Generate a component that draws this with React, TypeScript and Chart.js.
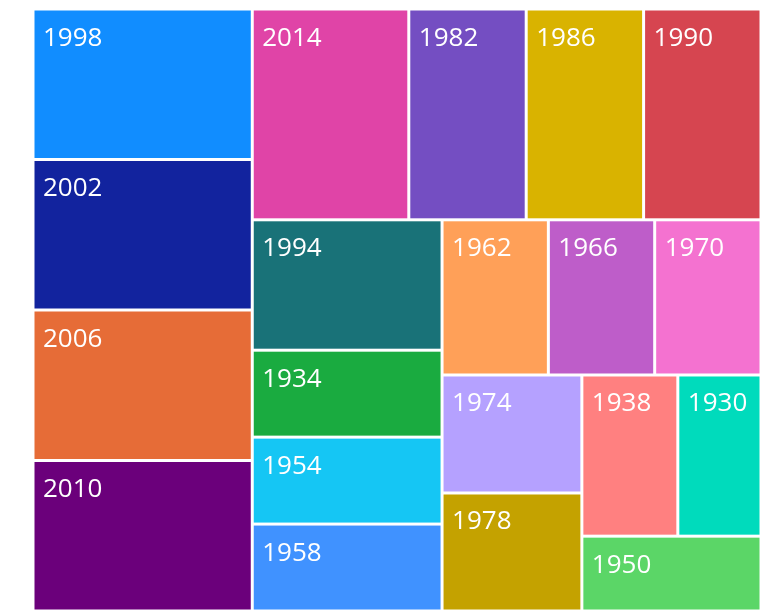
import React, { useEffect, useRef } from "react";
import { Chart, registerables } from "chart.js";

Chart.register(...registerables);

// FIFA World Cup: number of participating teams per tournament
const years = ["1930", "1934", "1938", "1950", "1954", "1958", "1962", "1966", "1970", "1974", "1978", "1982", "1986", "1990", "1994", "1998", "2002", "2006", "2010", "2014"];
const teams = [13, 16, 15, 13, 16, 16, 16, 16, 16, 16, 16, 24, 24, 24, 24, 32, 32, 32, 32, 32];
// colours assigned in size order (largest first)
const palette = ["#118DFF", "#12239E", "#E66C37", "#6B007B", "#E044A7", "#744EC2", "#D9B300", "#D64550", "#197278", "#1AAB40", "#15C6F4", "#4092FF", "#FFA058", "#BE5DC9", "#F472D0", "#B5A1FF", "#C4A200", "#FF8080", "#00DBBC", "#5BD667"];

type Item = { label: string; value: number; color: string };
type Cell = Item & { x0: number; y0: number; x1: number; y1: number };

const PHI = (1 + Math.sqrt(5)) / 2;

// squarified layout (golden-ratio target), in a W x H box
function squarify(nodes: Item[], W: number, H: number): Cell[] {
  const out: Cell[] = [];
  let x0 = 0, y0 = 0, x1 = W, y1 = H;
  let value = nodes.reduce((a, b) => a + b.value, 0);
  const n = nodes.length;
  let i0 = 0, i1 = 0;
  while (i0 < n) {
    const dx = x1 - x0, dy = y1 - y0;
    let sumValue = nodes[i1++].value;
    let minValue = sumValue, maxValue = sumValue;
    const alpha = Math.max(dy / dx, dx / dy) / (value * PHI);
    let beta = sumValue * sumValue * alpha;
    let minRatio = Math.max(maxValue / beta, beta / minValue);
    for (; i1 < n; ++i1) {
      const nv = nodes[i1].value;
      sumValue += nv;
      if (nv < minValue) minValue = nv;
      if (nv > maxValue) maxValue = nv;
      beta = sumValue * sumValue * alpha;
      const newRatio = Math.max(maxValue / beta, beta / minValue);
      if (newRatio > minRatio) { sumValue -= nv; break; }
      minRatio = newRatio;
    }
    const row = nodes.slice(i0, i1);
    if (dx < dy) {
      const ny = y0 + (dy * sumValue) / value;
      let x = x0;
      row.forEach((r) => {
        const w = ((x1 - x0) * r.value) / sumValue;
        out.push({ ...r, x0: x, y0, x1: x + w, y1: ny });
        x += w;
      });
      y0 = ny;
    } else {
      const nx = x0 + (dx * sumValue) / value;
      let y = y0;
      row.forEach((r) => {
        const h = ((y1 - y0) * r.value) / sumValue;
        out.push({ ...r, x0, y0: y, x1: nx, y1: y + h });
        y += h;
      });
      x0 = nx;
    }
    value -= sumValue;
    i0 = i1;
  }
  return out;
}

const treemapPlugin = {
  id: "treemapCells",
  afterDatasetsDraw(chart: any) {
    const { ctx, chartArea, scales } = chart;
    const W = chartArea.right - chartArea.left;
    const H = chartArea.bottom - chartArea.top;
    const items: Item[] = years
      .map((y, i) => ({ label: y, value: teams[i], idx: i }))
      .sort((a, b) => b.value - a.value || a.idx - b.idx)
      .map((d, i) => ({ label: d.label, value: d.value, color: palette[i] }));
    const cells = squarify(items, W, H);
    const gap = 1.5;
    ctx.save();
    for (const c of cells) {
      const px0 = scales.x.getPixelForValue(c.x0 / W);
      const px1 = scales.x.getPixelForValue(c.x1 / W);
      const py0 = scales.y.getPixelForValue(c.y0 / H);
      const py1 = scales.y.getPixelForValue(c.y1 / H);
      const l = Math.min(px0, px1) + gap;
      const t = Math.min(py0, py1) + gap;
      const w = Math.abs(px1 - px0) - 2 * gap;
      const h = Math.abs(py1 - py0) - 2 * gap;
      ctx.fillStyle = c.color;
      ctx.fillRect(l, t, w, h);
      ctx.fillStyle = "#ffffff";
      ctx.font = '26px "Segoe UI", "Open Sans", sans-serif';
      ctx.textBaseline = "alphabetic";
      ctx.textAlign = "left";
      ctx.fillText(c.label, l + 8.5, t + 35);
    }
    ctx.restore();
  },
};

export default function App() {
  const ref = useRef<HTMLCanvasElement>(null);
  useEffect(() => {
    if (!ref.current) return;
    const chart = new Chart(ref.current, {
      type: "scatter",
      data: { datasets: [] },
      options: {
        animation: false,
        responsive: true,
        maintainAspectRatio: false,
        layout: { padding: { left: 25, top: 1, right: 0, bottom: 0 } },
        plugins: { legend: { display: false }, tooltip: { enabled: false } },
        scales: {
          x: { type: "linear", min: 0, max: 1, display: false },
          y: { type: "linear", min: 0, max: 1, reverse: true, display: false },
        },
      },
      plugins: [treemapPlugin],
    });
    return () => chart.destroy();
  }, []);
  return (
    <div style={{ width: 753, height: 603 }}>
      <canvas ref={ref} />
    </div>
  );
}
